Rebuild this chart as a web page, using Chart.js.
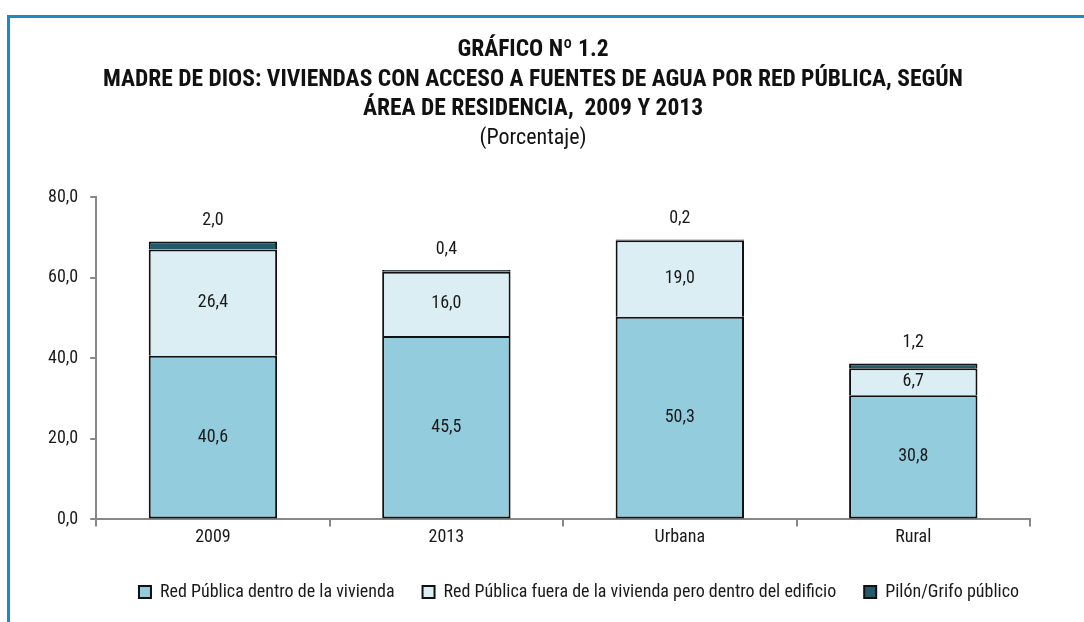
<!DOCTYPE html>
<html>
<head>
<meta charset="utf-8">
<script src="https://cdn.jsdelivr.net/npm/chart.js@4.4.1/dist/chart.umd.min.js"></script>
<style>
  html, body { margin: 0; padding: 0; background: #fff; }
  #wrap { position: relative; width: 1084px; height: 622px; overflow: hidden; }
  #frame { position: absolute; left: 7px; top: 15px; width: 1100px; height: 700px;
           border-top: 3px solid #1b8bc2; border-left: 3px solid #1b8bc2; }
  canvas { position: absolute; left: 0; top: 0; }
</style>
</head>
<body>
<div id="wrap">
  <div id="frame"></div>
  <canvas id="chart" width="1084" height="622"></canvas>
</div>
<script>
// Data
const categories = ['2009', '2013', 'Urbana', 'Rural'];
const dentroVivienda = [40.6, 45.5, 50.3, 30.8];
const fueraVivienda = [26.4, 16.0, 19.0, 6.7];
const pilonGrifo = [2.0, 0.4, 0.2, 1.2];
const yTicks = [0, 20, 40, 60, 80];

const FONT = "'Roboto Condensed', Roboto, sans-serif";

function fmt(v) {
    return v.toFixed(1).replace('.', ',');
}

// draws the values on the bars
const barLabels = {
    id: 'barLabels',
    afterDatasetsDraw(chart) {
        const ctx = chart.ctx;
        ctx.save();
        ctx.font = '18px ' + FONT;
        ctx.fillStyle = '#1a1a1a';
        ctx.textAlign = 'center';
        ctx.textBaseline = 'middle';
        chart.data.datasets.forEach(function(ds, i) {
            const meta = chart.getDatasetMeta(i);
            meta.data.forEach(function(bar, j) {
                const v = ds.data[j];
                if (i < 2) {
                    ctx.fillText(fmt(v), bar.x, (bar.y + bar.base) / 2);
                } else {
                    ctx.fillText(fmt(v), bar.x, bar.y - 21);
                }
            });
        });
        ctx.restore();
    }
};

// legend sits a bit right of the canvas centre in the original
const shiftLegend = {
    id: 'shiftLegend',
    afterLayout(chart) {
        chart.legend.left += 46;
        chart.legend.right += 46;
    }
};

const ctx = document.getElementById('chart').getContext('2d');
new Chart(ctx, {
    type: 'bar',
    data: {
        labels: categories,
        datasets: [{
            label: 'Red Pública dentro de la vivienda',
            data: dentroVivienda,
            backgroundColor: '#93cddd',
            borderColor: '#111',
            borderWidth: 2,
            borderSkipped: false
        }, {
            label: 'Red Pública fuera de la vivienda pero dentro del edificio',
            data: fueraVivienda,
            backgroundColor: '#dbeef4',
            borderColor: '#111',
            borderWidth: 2,
            borderSkipped: 'bottom'
        }, {
            label: 'Pilón/Grifo público',
            data: pilonGrifo,
            backgroundColor: '#215a68',
            borderColor: '#111',
            borderWidth: 2,
            borderSkipped: 'bottom'
        }]
    },
    options: {
        responsive: false,
        animation: false,
        layout: { padding: { left: 36, right: 54, top: 0, bottom: 11 } },
        datasets: { bar: { categoryPercentage: 1, barPercentage: 0.55 } },
        scales: {
            x: {
                stacked: true,
                grid: { drawOnChartArea: false, drawTicks: true, tickLength: 7, color: '#888', lineWidth: 2 },
                border: { color: '#888', width: 2 },
                ticks: { color: '#1a1a1a', font: { family: FONT, size: 18 }, padding: 0 },
                afterFit: function(scale) { scale.height += 7; }
            },
            y: {
                stacked: true,
                min: 0,
                max: 80,
                afterBuildTicks: function(axis) {
                    axis.ticks = yTicks.map(function(v) { return { value: v }; });
                },
                grid: { drawOnChartArea: false, drawTicks: true, tickLength: 6, color: '#888', lineWidth: 2 },
                border: { color: '#888', width: 2 },
                ticks: {
                    color: '#1a1a1a',
                    font: { family: FONT, size: 18 },
                    padding: 12,
                    callback: function(v) { return fmt(v); }
                }
            }
        },
        plugins: {
            title: {
                display: true,
                text: ['GRÁFICO Nº 1.2',
                       'MADRE DE DIOS: VIVIENDAS CON ACCESO A FUENTES DE AGUA POR RED PÚBLICA, SEGÚN',
                       'ÁREA DE RESIDENCIA,  2009 Y 2013'],
                color: '#111',
                font: { family: FONT, size: 23.5, weight: 'bold', lineHeight: 1.27 },
                padding: { top: 35, bottom: 0 }
            },
            subtitle: {
                display: true,
                text: '(Porcentaje)',
                color: '#111',
                font: { family: FONT, size: 22, lineHeight: 1.3 },
                padding: { top: 0, bottom: 44 }
            },
            legend: {
                position: 'bottom',
                labels: {
                    color: '#1a1a1a',
                    font: { family: FONT, size: 18 },
                    boxWidth: 12,
                    boxHeight: 12,
                    padding: 28
                }
            },
            tooltip: { enabled: false }
        }
    },
    plugins: [barLabels, shiftLegend]
});
</script>
</body>
</html>
